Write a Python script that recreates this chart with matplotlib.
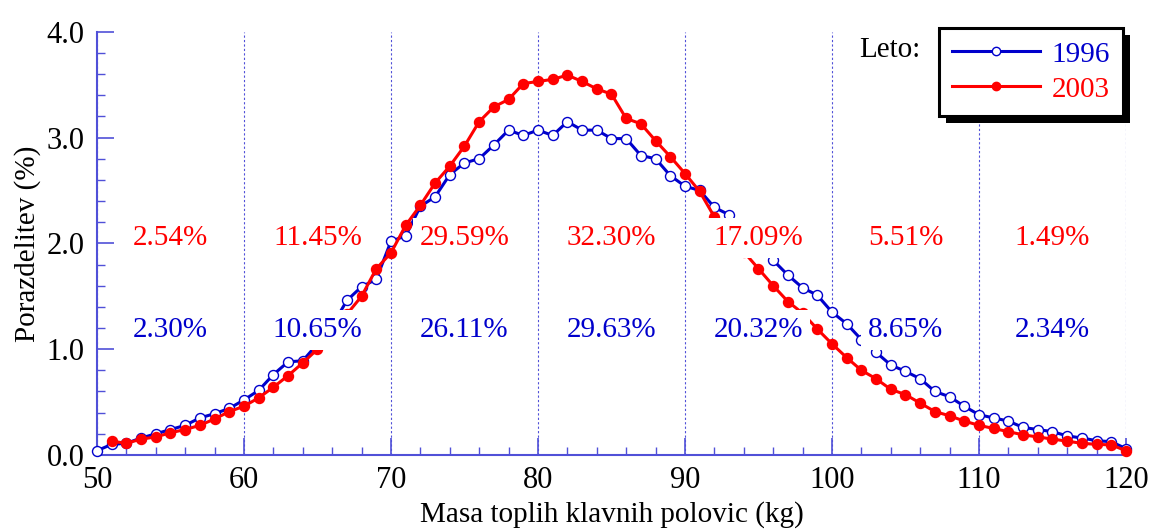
import matplotlib
matplotlib.use("Agg")
import matplotlib.pyplot as plt
from matplotlib.lines import Line2D
from matplotlib.patches import Rectangle
from matplotlib.transforms import IdentityTransform
from matplotlib.ticker import MultipleLocator, FormatStrFormatter

plt.rcParams['font.family'] = ['Liberation Serif', 'DejaVu Serif']

kg_1996 = list(range(50, 121))
pct_1996 = [0.04, 0.10, 0.11, 0.16, 0.20, 0.24, 0.28, 0.35, 0.39, 0.44,
            0.52, 0.61, 0.76, 0.88, 0.89, 1.05, 1.22, 1.46, 1.59, 1.66,
            2.02, 2.07, 2.35, 2.44, 2.65, 2.76, 2.80, 2.93, 3.07, 3.02,
            3.07, 3.02, 3.15, 3.07, 3.07, 2.99, 2.99, 2.83, 2.80, 2.64,
            2.54, 2.50, 2.34, 2.27, 2.10, 1.97, 1.84, 1.70, 1.58, 1.51,
            1.35, 1.24, 1.09, 0.97, 0.85, 0.79, 0.72, 0.60, 0.55, 0.46,
            0.38, 0.35, 0.32, 0.26, 0.24, 0.22, 0.18, 0.16, 0.135, 0.125,
            0.06]

kg_2003 = list(range(51, 121))
pct_2003 = [0.13, 0.11, 0.15, 0.17, 0.21, 0.24, 0.28, 0.34, 0.41,
            0.46, 0.54, 0.64, 0.75, 0.87, 1.00, 1.17, 1.33, 1.50, 1.76,
            1.91, 2.17, 2.36, 2.57, 2.73, 2.92, 3.15, 3.29, 3.36, 3.51,
            3.53, 3.55, 3.59, 3.53, 3.46, 3.41, 3.18, 3.13, 2.97, 2.82,
            2.66, 2.49, 2.25, 2.08, 1.92, 1.76, 1.60, 1.45, 1.34, 1.19,
            1.05, 0.92, 0.80, 0.72, 0.62, 0.57, 0.49, 0.41, 0.37, 0.32,
            0.28, 0.25, 0.22, 0.19, 0.17, 0.15, 0.13, 0.11, 0.10, 0.095,
            0.04]

class_centers = [55, 65, 75, 85, 95, 105, 115]
share_2003 = ["2.54%", "11.45%", "29.59%", "32.30%", "17.09%", "5.51%", "1.49%"]
share_1996 = ["2.30%", "10.65%", "26.11%", "29.63%", "20.32%", "8.65%", "2.34%"]

BLUE = '#0000cc'
RED = '#ff0000'
AXC = '#5050d8'
FS = 21

fig = plt.figure(figsize=(11.52, 5.29), dpi=100)
ax = fig.add_axes([0.0842, 0.140, 0.8932, 0.800])

ax.plot(kg_1996, pct_1996, color=BLUE, lw=2.2, marker='o', ms=7.2,
        mfc='white', mec=BLUE, mew=1.0, clip_on=False, zorder=3)
ax.plot(kg_2003, pct_2003, color=RED, lw=2.2, marker='o', ms=7.2,
        mfc=RED, mec=RED, clip_on=False, zorder=3.5)

for xc, t in zip(class_centers, share_2003):
    ax.text(xc, 2.05, t, color=RED, fontsize=FS, ha='center', va='center',
            bbox=dict(facecolor='white', edgecolor='none', pad=5), zorder=4)
for xc, t in zip(class_centers, share_1996):
    ax.text(xc, 1.18, t, color=BLUE, fontsize=FS, ha='center', va='center',
            bbox=dict(facecolor='white', edgecolor='none', pad=5), zorder=4)

ax.set_xlim(50, 120)
ax.set_ylim(0, 4.0)
ax.xaxis.set_major_locator(MultipleLocator(10))
ax.xaxis.set_minor_locator(MultipleLocator(2))
ax.yaxis.set_major_locator(MultipleLocator(1.0))
ax.yaxis.set_minor_locator(MultipleLocator(0.2))
ax.yaxis.set_major_formatter(FormatStrFormatter('%.1f'))

for s in ['top', 'right']:
    ax.spines[s].set_visible(False)
for s in ['left', 'bottom']:
    ax.spines[s].set_color(AXC)
    ax.spines[s].set_linewidth(1.5)

ax.tick_params(which='both', direction='in', colors=AXC, labelcolor='black',
               labelsize=22)
ax.tick_params(which='major', length=12, width=1.2)
ax.tick_params(which='minor', length=6, width=1.0)
ax.tick_params(axis='x', pad=8)
ax.tick_params(axis='y', pad=9)

ax.grid(axis='x', which='major', color=AXC, lw=0.8, ls=(0, (2, 2)))
ax.set_axisbelow(True)

ax.set_xlabel('Masa toplih klavnih polovic (kg)', fontsize=FS, labelpad=4)
ax.set_ylabel('Porazdelitev (%)', fontsize=FS, labelpad=4)

handles = [Line2D([], [], color=BLUE, lw=2.2, marker='o', ms=6, mfc='white', mec=BLUE),
           Line2D([], [], color=RED, lw=2.2, marker='o', ms=6, mfc=RED, mec=RED)]
leg = ax.legend(handles, ['1996', '2003'], loc='upper right',
                bbox_to_anchor=(1123 / 1152, 1 - 28 / 529),
                bbox_transform=fig.transFigure, borderaxespad=0,
                fontsize=FS, fancybox=False, framealpha=1, edgecolor='black',
                handlelength=3.0, handletextpad=0.4, labelspacing=0.3,
                borderpad=0.45, labelcolor='linecolor')
leg.get_frame().set_linewidth(2.2)
leg.set_zorder(10)

fig.text(920 / 1152, 1 - 50 / 529, 'Leto:', fontsize=FS, ha='right', va='center')

fig.canvas.draw()
bb = leg.get_frame().get_window_extent()
shadow = Rectangle((bb.x0 + 7, bb.y0 - 7), bb.width, bb.height,
                   transform=IdentityTransform(), facecolor='black',
                   edgecolor='none', zorder=9, clip_on=False)
ax.add_artist(shadow)

fig.savefig('out.png', dpi=100)
